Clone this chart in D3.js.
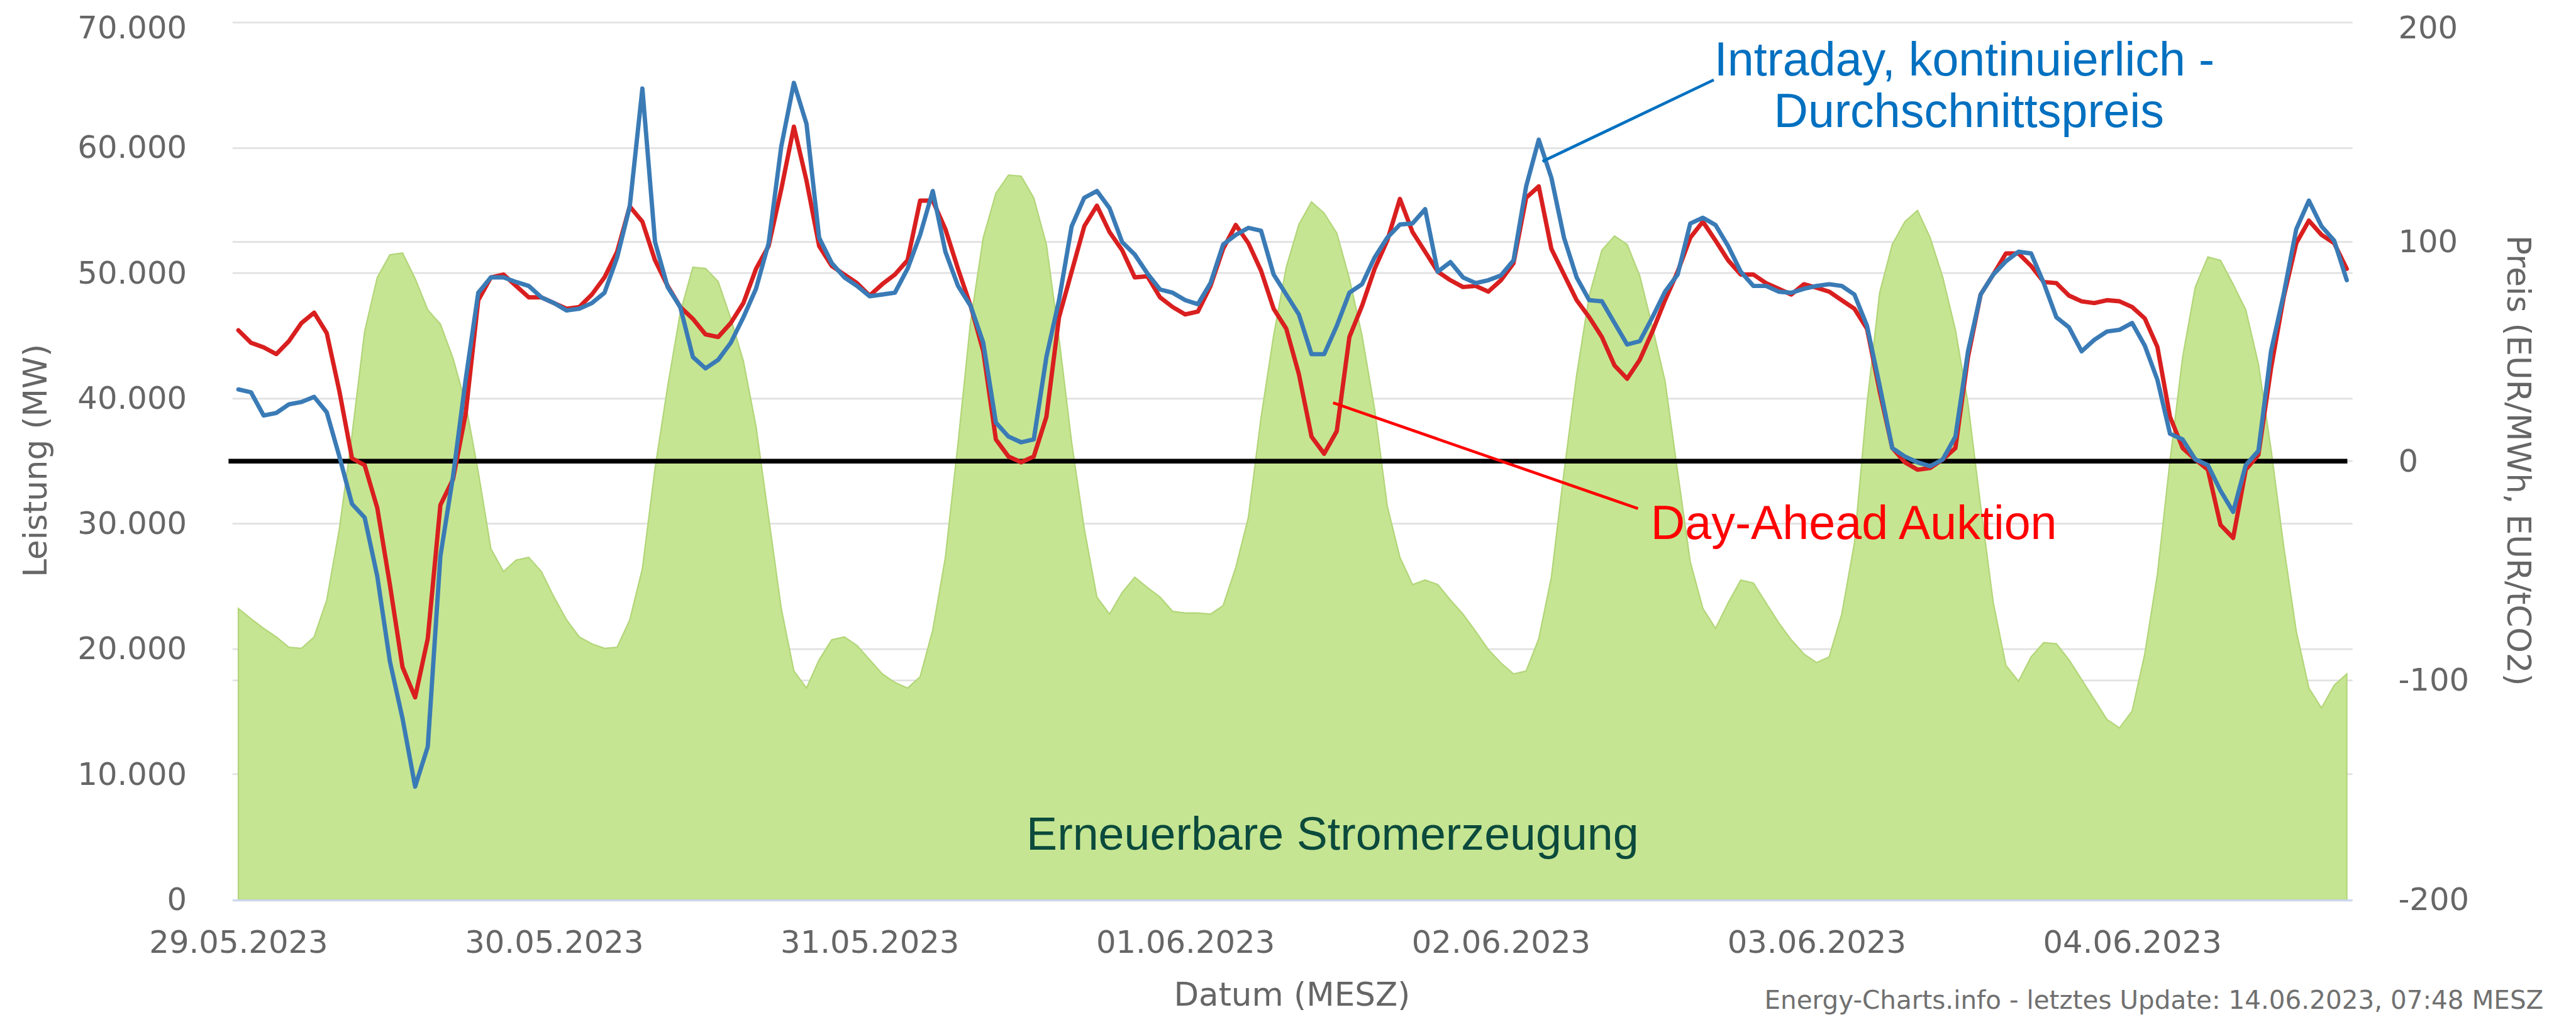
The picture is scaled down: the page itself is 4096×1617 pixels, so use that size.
<!DOCTYPE html>
<html><head><meta charset="utf-8">
<script src="https://cdn.jsdelivr.net/npm/d3@7"></script>
<style>html,body{margin:0;padding:0;background:#fff;overflow:hidden}</style>
</head><body>
<svg id="chart" width="4096" height="1617"></svg>
<script>
// Day-Ahead Auktion (EUR/MWh), hourly 29.05.2023 00:00 – 04.06.2023 23:00
const dayAhead = [59.7,54.0,51.9,48.8,54.7,63.0,67.7,58.4,31.9,1.3,
-1.8,-21.3,-56.3,-93.9,-107.7,-80.9,-20.0,-8.3,21.5,73.4,
83.8,85.1,79.9,74.7,74.7,72.1,69.5,70.3,76.0,83.8,
95.5,116.2,109.2,91.6,79.9,70.3,64.9,57.8,56.6,63.0,
72.1,87.7,98.1,124.0,152.5,127.9,98.1,89.0,85.1,81.2,
75.5,80.7,85.1,91.6,118.8,118.8,105.8,87.7,70.8,50.1,
9.9,2.1,-0.5,2.1,20.2,65.6,86.4,107.1,116.5,104.5,
96.2,83.8,84.3,74.7,70.3,66.9,68.2,79.9,96.8,107.7,
99.4,86.9,69.5,60.4,39.7,11.2,3.4,13.7,56.6,70.8,
87.7,100.6,119.6,104.5,95.5,86.4,82.5,79.4,79.9,77.3,
82.5,90.3,120.1,125.3,96.8,85.1,73.4,65.6,56.6,43.6,
37.6,46.2,59.1,73.4,86.4,101.9,109.2,100.6,91.6,85.1,
85.1,81.2,78.6,76.0,80.7,79.1,77.3,73.4,69.5,60.4,
31.9,6.0,-0.5,-3.9,-3.1,0.8,6.0,47.5,76.0,85.1,
94.7,94.7,89.0,81.7,81.2,75.5,72.9,72.1,73.4,72.9,
70.3,65.1,52.1,20.2,6.0,0.8,-3.9,-29.1,-35.0,-3.9,
2.9,42.3,74.7,99.4,109.7,103.2,99.4,87.7];

// Intraday, kontinuierlich - Durchschnittspreis (EUR/MWh)
const intraday = [32.7,31.4,20.8,22.0,25.9,27.0,29.3,22.3,2.1,-19.5,
-25.7,-52.4,-91.3,-117.3,-148.4,-130.2,-43.3,-7.0,37.1,76.8,
83.8,83.8,81.7,79.9,74.7,72.1,68.7,69.5,72.1,76.8,
92.9,116.2,169.9,100.0,79.4,70.3,47.5,42.3,46.2,54.0,
65.6,78.6,99.4,143.5,172.5,153.8,101.9,90.3,83.8,79.9,
75.2,76.0,76.8,87.7,103.2,123.2,95.5,79.9,70.8,54.0,
17.6,11.2,8.6,9.9,47.5,73.4,107.1,120.1,123.2,115.4,
99.9,94.2,85.6,78.3,76.8,73.4,71.6,81.2,98.8,103.2,
106.4,105.1,85.1,76.0,66.9,48.8,48.8,61.7,76.8,80.7,
92.9,101.9,107.9,108.4,114.9,86.4,90.8,83.8,81.2,82.5,
84.7,91.6,125.3,146.6,129.2,101.9,83.8,73.4,72.9,63.0,
53.2,54.7,65.6,77.3,85.1,108.4,111.0,107.7,98.1,86.4,
79.9,79.9,77.3,76.8,78.6,79.9,80.7,79.9,76.0,61.7,
34.5,6.0,2.1,-0.5,-2.3,0.8,11.2,50.1,76.0,85.1,
91.1,95.5,94.7,81.2,65.6,61.0,50.1,55.3,59.1,59.9,
63.0,52.7,37.1,12.5,9.9,0.8,-1.8,-13.5,-23.1,-1.8,
4.7,50.1,76.0,105.8,118.8,107.1,100.6,82.5];

// Erneuerbare Stromerzeugung (MW)
const renewables = [23240,22420,21650,20970,20150,20060,20970,23920,29600,37080,
45340,49650,51470,51610,49570,47070,45930,43210,39580,34130,
28010,26190,27100,27320,26190,24150,22330,20970,20420,20060,
20150,22330,26420,34400,40940,46840,50470,50380,49340,46390,
42980,37760,30500,23240,18250,16890,19150,20740,20970,20290,
19150,18020,17340,16890,17790,21520,27320,36400,46160,52830,
56370,57830,57740,56010,52290,44800,36500,29590,24150,22790,
24510,25740,24920,24150,23010,22880,22880,22790,23470,26510,
30500,38450,45030,50470,53880,55690,54790,53200,49570,45030,
39130,31410,27320,25150,25510,25150,23920,22790,21420,19970,
18900,18020,18250,20830,25740,34130,41850,48210,51840,52970,
52290,49790,45710,41400,34130,26960,23240,21650,23690,25510,
25280,23690,22110,20740,19610,18930,19380,22790,28460,39580,
48430,52290,54110,55000,52830,49660,45480,39580,31410,23690,
18700,17430,19380,20520,20430,19150,17570,15980,14390,13710,
15070,19610,25960,35040,43300,48890,51290,51020,49110,47070,
42760,35950,28230,21420,16890,15300,17110,18020];

const xTickIndex = [0,25,50,75,100,125,150];
const xTickLabels = ["29.05.2023","30.05.2023","31.05.2023","01.06.2023","02.06.2023","03.06.2023","04.06.2023"];
const leftTicks = [0,10000,20000,30000,40000,50000,60000,70000];
const rightTicks = [-200,-100,0,100,200];

const S = 0.92;
const svg = d3.select("#chart");
const g = svg.append("g").attr("transform", `scale(${S})`);

const x = d3.scaleLinear().domain([0, renewables.length - 1]).range([412, 4056]);
const yL = d3.scaleLinear().domain([0, 70000]).range([1555, 39]);
const yR = d3.scaleLinear().domain([-200, 200]).range([1555, 39]);

const de = d3.formatLocale({decimal: ",", thousands: ".", grouping: [3], currency: ["", " €"], minus: "-"});
const fmtL = de.format(",");
const fmtR = de.format("d");

const tickFont = "'DejaVu Sans', Verdana, sans-serif";
const gray = "#666666";

// grid lines
const gridY = Array.from(new Set([...leftTicks.map(v => Math.round(yL(v))), ...rightTicks.map(v => Math.round(yR(v)))]))
  .filter(y => y < 1550);
g.append("g").selectAll("line").data(gridY).join("line")
  .attr("x1", 402).attr("x2", 4066)
  .attr("y1", d => d).attr("y2", d => d)
  .attr("stroke", "#e1e1e1").attr("stroke-width", 3);

// area
const area = d3.area().x((d, i) => x(i)).y0(yL(0)).y1(d => yL(d));
g.append("path").datum(renewables).attr("d", area)
  .attr("fill", "#c6e592").attr("stroke", "#b3d67a").attr("stroke-width", 2.5);

// bottom axis line
g.append("line").attr("x1", 402).attr("x2", 4066).attr("y1", 1556).attr("y2", 1556)
  .attr("stroke", "#ccd6eb").attr("stroke-width", 3.5);

// zero price line
g.append("line").attr("x1", 395).attr("x2", 4057).attr("y1", yR(0)).attr("y2", yR(0))
  .attr("stroke", "#000").attr("stroke-width", 8);

// price lines
const line = d3.line().x((d, i) => x(i)).y(d => yR(d));
g.append("path").datum(dayAhead).attr("d", line)
  .attr("fill", "none").attr("stroke", "#d91f1f").attr("stroke-width", 7.5)
  .attr("stroke-linejoin", "round").attr("stroke-linecap", "round");
g.append("path").datum(intraday).attr("d", line)
  .attr("fill", "none").attr("stroke", "#3a7bb6").attr("stroke-width", 7.5)
  .attr("stroke-linejoin", "round").attr("stroke-linecap", "round");

// axes
function styleAxis(sel) {
  sel.select(".domain").remove();
  sel.selectAll("text").attr("font-family", tickFont).attr("font-size", 54).attr("fill", gray);
}
const axL = g.append("g").attr("transform", "translate(323,0)")
  .call(d3.axisLeft(yL).tickValues(leftTicks).tickFormat(fmtL).tickSize(0).tickPadding(0));
styleAxis(axL);
axL.selectAll(".tick text").filter(d => d === 70000).attr("dy", "0.5em");

const axR = g.append("g").attr("transform", "translate(4145,0)")
  .call(d3.axisRight(yR).tickValues(rightTicks).tickFormat(fmtR).tickSize(0).tickPadding(0));
styleAxis(axR);
axR.selectAll(".tick text").filter(d => d === 200).attr("dy", "0.5em");

const axB = g.append("g").attr("transform", "translate(0,1608)")
  .call(d3.axisBottom(x).tickValues(xTickIndex).tickFormat((d, i) => xTickLabels[i]).tickSize(0).tickPadding(0));
styleAxis(axB);

// axis titles
g.append("text").attr("transform", "translate(80,796) rotate(-90)")
  .attr("text-anchor", "middle").attr("font-family", tickFont).attr("font-size", 56).attr("fill", gray)
  .text("Leistung (MW)");
g.append("text").attr("transform", "translate(4334,796) rotate(90)")
  .attr("text-anchor", "middle").attr("font-family", tickFont).attr("font-size", 56).attr("fill", gray)
  .text("Preis (EUR/MWh, EUR/tCO2)");
g.append("text").attr("x", 2233).attr("y", 1738)
  .attr("text-anchor", "middle").attr("font-family", tickFont).attr("font-size", 56).attr("fill", gray)
  .text("Datum (MESZ)");

// footer
g.append("text").attr("x", 4396).attr("y", 1744)
  .attr("text-anchor", "end").attr("font-family", tickFont).attr("font-size", 44).attr("fill", "#707070")
  .text("Energy-Charts.info - letztes Update: 14.06.2023, 07:48 MESZ");

// annotations
const annFont = "'Liberation Sans', Arial, Helvetica, sans-serif";
g.append("line").attr("x1", 2666).attr("y1", 279).attr("x2", 2962).attr("y2", 138)
  .attr("stroke", "#0070c0").attr("stroke-width", 5);
const t1 = g.append("text").attr("text-anchor", "middle").attr("font-family", annFont)
  .attr("font-size", 82).attr("fill", "#0070c0");
t1.append("tspan").attr("x", 3395).attr("y", 130).text("Intraday, kontinuierlich -");
t1.append("tspan").attr("x", 3403).attr("y", 220).text("Durchschnittspreis");

g.append("line").attr("x1", 2304).attr("y1", 696).attr("x2", 2831).attr("y2", 879)
  .attr("stroke", "#ff0000").attr("stroke-width", 5);
g.append("text").attr("x", 2853).attr("y", 932).attr("font-family", annFont)
  .attr("font-size", 82).attr("fill", "#ff0000").text("Day-Ahead Auktion");

g.append("text").attr("x", 1774).attr("y", 1469).attr("font-family", annFont)
  .attr("font-size", 80).attr("fill", "#0b4a3c").text("Erneuerbare Stromerzeugung");
</script>
</body></html>
